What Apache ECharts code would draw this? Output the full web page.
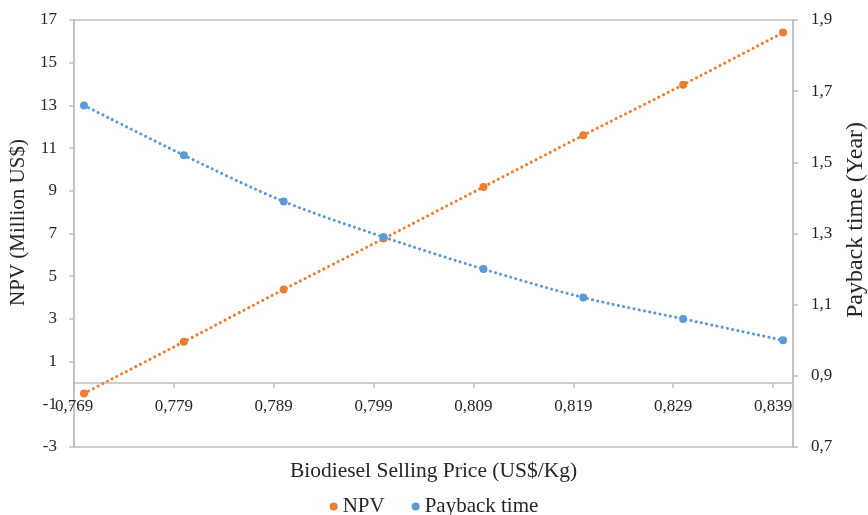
<!DOCTYPE html>
<html>
<head>
<meta charset="utf-8">
<script src="https://cdn.jsdelivr.net/npm/echarts@6/dist/echarts.min.js"></script>
<style>
html,body{margin:0;padding:0;background:#fff;}
#chart{width:868px;height:515px;}
</style>
</head>
<body>
<div id="chart"></div>
<script>
// Data
const prices = [0.770, 0.780, 0.790, 0.800, 0.810, 0.820, 0.830, 0.840];
const npv = [-0.49, 1.93, 4.38, 6.76, 9.18, 11.60, 13.97, 16.41];
const payback = [1.66, 1.52, 1.39, 1.29, 1.20, 1.12, 1.06, 1.00];
const xTickLabels = ['0,769', '0,779', '0,789', '0,799', '0,809', '0,819', '0,829', '0,839'];
const xTickValues = [0.769, 0.779, 0.789, 0.799, 0.809, 0.819, 0.829, 0.839];
const npvTicks = [-3, -1, 1, 3, 5, 7, 9, 11, 13, 15, 17];
const paybackTicks = ['0,7', '0,9', '1,1', '1,3', '1,5', '1,7', '1,9'];

const FONT = "'Liberation Serif','Times New Roman',serif";
const AXIS_GRAY = '#BFBFBF';
const TEXT = '#262626';
const ORANGE = '#ED7D31';
const BLUE = '#5B9BD5';

const GRID_TOP = 20, GRID_BOTTOM = 68, CH = 515;
const gridHeight = CH - GRID_TOP - GRID_BOTTOM;
const npvMin = npvTicks[0], npvMax = npvTicks[npvTicks.length - 1];
// move the category axis up so it crosses the NPV axis at zero
const xAxisOffset = -((0 - npvMin) / (npvMax - npvMin)) * gridHeight;

function xLabel(v) {
  for (let i = 0; i < xTickValues.length; i++) {
    if (Math.abs(v - xTickValues[i]) < 1e-6) return xTickLabels[i];
  }
  return '';
}
function rightLabel(v) {
  const i = Math.round((v - 0.7) / 0.2);
  return paybackTicks[i] !== undefined ? paybackTicks[i] : '';
}

const chart = echarts.init(document.getElementById('chart'), null, {renderer: 'canvas'});
chart.setOption({
  animation: false,
  backgroundColor: '#fff',
  textStyle: {fontFamily: FONT, color: TEXT},
  grid: {left: 74, right: 75, top: GRID_TOP, bottom: GRID_BOTTOM, containLabel: false, outerBoundsMode: 'none',
         show: true, borderColor: AXIS_GRAY, borderWidth: 1.5, backgroundColor: 'transparent'},
  legend: {
    top: 491, left: 'center',
    icon: 'circle', itemWidth: 8, itemHeight: 8, itemGap: 27,
    textStyle: {fontFamily: FONT, fontSize: 21, color: TEXT},
    data: ['NPV', 'Payback time']
  },
  xAxis: {
    type: 'value',
    min: 0.769, max: 0.841, interval: 0.01,
    offset: xAxisOffset,
    name: 'Biodiesel Selling Price (US$/Kg)',
    nameLocation: 'middle', nameGap: 77,
    nameTextStyle: {fontFamily: FONT, fontSize: 21.5, color: TEXT},
    axisLine: {show: true, onZero: false, lineStyle: {color: AXIS_GRAY, width: 1.5}},
    axisTick: {show: true, length: 5, lineStyle: {color: AXIS_GRAY, width: 1.5}},
    axisLabel: {fontFamily: FONT, fontSize: 17, color: TEXT, margin: 15, showMaxLabel: false, formatter: xLabel},
    splitLine: {show: false}
  },
  yAxis: [
    {
      type: 'value', position: 'left',
      min: npvMin, max: npvMax, interval: 2,
      name: 'NPV (Million US$)',
      nameLocation: 'middle', nameGap: 38,
      nameTextStyle: {fontFamily: FONT, fontSize: 21, color: TEXT, padding: [0, 0, 0, 22]},
      axisLine: {show: true, lineStyle: {color: AXIS_GRAY, width: 1.5}},
      axisTick: {show: true, length: 5, lineStyle: {color: AXIS_GRAY, width: 1.5}},
      axisLabel: {fontFamily: FONT, fontSize: 17, color: TEXT, margin: 17},
      splitLine: {show: false}
    },
    {
      type: 'value', position: 'right',
      min: 0.7, max: 1.9, interval: 0.2,
      name: 'Payback time (Year)',
      nameLocation: 'middle', nameGap: 51,
      nameTextStyle: {fontFamily: FONT, fontSize: 24, color: TEXT, padding: [0, 0, 0, 27]},
      axisLine: {show: true, lineStyle: {color: AXIS_GRAY, width: 1.5}},
      axisTick: {show: true, length: 5, lineStyle: {color: AXIS_GRAY, width: 1.5}},
      axisLabel: {fontFamily: FONT, fontSize: 17, color: TEXT, margin: 18, formatter: rightLabel},
      splitLine: {show: false}
    }
  ],
  series: [
    {
      name: 'NPV', type: 'line', yAxisIndex: 0, smooth: 0.3,
      data: prices.map((p, i) => [p, npv[i]]),
      symbol: 'circle', symbolSize: 8,
      itemStyle: {color: ORANGE},
      lineStyle: {color: ORANGE, width: 3, type: [0.1, 5.2], cap: 'round'}
    },
    {
      name: 'Payback time', type: 'line', yAxisIndex: 1, smooth: 0.3,
      data: prices.map((p, i) => [p, payback[i]]),
      symbol: 'circle', symbolSize: 8,
      itemStyle: {color: BLUE},
      lineStyle: {color: BLUE, width: 3, type: [0.1, 5.2], cap: 'round'}
    }
  ]
});
</script>
</body>
</html>
